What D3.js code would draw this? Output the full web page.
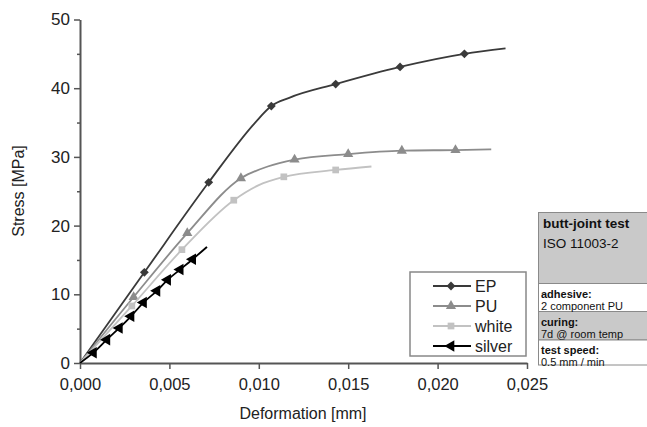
<!DOCTYPE html>
<html>
<head>
<meta charset="utf-8">
<script src="https://cdn.jsdelivr.net/npm/d3@7"></script>
<style>
  body { margin: 0; background: #fff; }
  svg text { font-family: "Liberation Sans", Arial, sans-serif; }
</style>
</head>
<body>
<svg id="chart" width="647" height="427"></svg>
<script>
// data: [deformation mm, stress MPa]
var epPoints = [[0,0],[0.0036,13.2],[0.0072,26.3],[0.0098,35.0],[0.0107,37.4],[0.0117,38.6],[0.0143,40.6],[0.0179,43.1],[0.0215,45.0],[0.0238,45.8]];
var epMarks = [[0.0036,13.2],[0.0072,26.3],[0.0107,37.4],[0.0143,40.6],[0.0179,43.1],[0.0215,45.0]];

var puPoints = [[0,0],[0.003,9.6],[0.006,18.9],[0.009,26.9],[0.0105,28.6],[0.012,29.6],[0.015,30.4],[0.018,30.9],[0.021,31.0],[0.0230,31.1]];
var puMarks = [[0.003,9.6],[0.006,18.9],[0.009,26.9],[0.012,29.6],[0.015,30.4],[0.018,30.9],[0.021,31.0]];

var whitePoints = [[0,0],[0.0029,8.3],[0.0057,16.5],[0.0086,23.7],[0.0100,25.9],[0.0114,27.1],[0.0143,28.1],[0.0163,28.6]];
var whiteMarks = [[0.0029,8.3],[0.0057,16.5],[0.0086,23.7],[0.0114,27.1],[0.0143,28.1]];

var silverPoints = [[0,0],[0.00075,1.5],[0.0015,3.4],[0.0022,5.1],[0.00285,6.8],[0.00355,8.8],[0.0043,10.5],[0.0049,12.1],[0.0056,13.6],[0.0063,15.1],[0.0071,16.9]];
var silverMarks = silverPoints.slice(1, 10);

var xTicks = [0, 0.005, 0.010, 0.015, 0.020, 0.025];
var yTicks = [0, 10, 20, 30, 40, 50];
var yMinor = [5, 15, 25, 35, 45];

var legendNames = ["EP", "PU", "white", "silver"];
var infoTitle = ["butt-joint test", "ISO 11003-2"];
var infoRows = [["adhesive:", "2 component PU"], ["curing:", "7d @ room temp"], ["test speed:", "0.5 mm / min"]];

var svg = d3.select("#chart");

var x = d3.scaleLinear().domain([0, 0.025]).range([80, 527]),
    y = d3.scaleLinear().domain([0, 50]).range([363, 19.5]);

var fmt = d3.formatLocale({decimal: ",", thousands: ".", grouping: [3], currency: ["", ""]}).format(".3f");

var axisColor = "#555";

// x axis
var gx = svg.append("g")
    .attr("transform", "translate(0," + y(0) + ")")
    .call(d3.axisBottom(x).tickValues(xTicks).tickFormat(fmt).tickSize(6).tickSizeOuter(0));
gx.attr("font-family", null);
gx.select(".domain").attr("stroke", axisColor).attr("stroke-width", 2);
gx.selectAll(".tick line").attr("stroke", axisColor).attr("stroke-width", 1.5);
gx.selectAll("text").attr("fill", "#222").style("font-size", "16.5px").attr("dy", "1.1em");

// y axis
var gy = svg.append("g")
    .attr("transform", "translate(" + x(0) + ",0)")
    .call(d3.axisLeft(y).tickValues(yTicks).tickSize(6).tickSizeOuter(0));
gy.attr("font-family", null);
gy.select(".domain").attr("stroke", axisColor).attr("stroke-width", 2);
gy.selectAll(".tick line").attr("stroke", axisColor).attr("stroke-width", 1.5);
gy.selectAll("text").attr("fill", "#222").style("font-size", "17px").attr("x", -10);

svg.append("g")
    .attr("transform", "translate(" + x(0) + ",0)")
    .call(d3.axisLeft(y).tickValues(yMinor).tickSize(3).tickFormat(""))
  .call(function(g) { g.select(".domain").remove(); })
  .selectAll(".tick line").attr("stroke", axisColor).attr("stroke-width", 1.5);

// axis titles
svg.append("text")
    .attr("x", 303).attr("y", 419)
    .attr("text-anchor", "middle")
    .attr("fill", "#222")
    .style("font-size", "16px")
    .text("Deformation [mm]");

svg.append("text")
    .attr("transform", "translate(24,191) rotate(-90)")
    .attr("text-anchor", "middle")
    .attr("fill", "#222")
    .style("font-size", "16px")
    .text("Stress [MPa]");

// series
var line = d3.line()
    .x(function(d) { return x(d[0]); })
    .y(function(d) { return y(d[1]); })
    .curve(d3.curveMonotoneX);

var series = [
  {name: "EP", pts: epPoints, marks: epMarks, color: "#3a3a3a", sym: d3.symbolDiamond2, size: 50, rot: 0},
  {name: "PU", pts: puPoints, marks: puMarks, color: "#8c8c8c", sym: d3.symbolTriangle, size: 45, rot: 0},
  {name: "white", pts: whitePoints, marks: whiteMarks, color: "#c2c2c2", sym: d3.symbolSquare, size: 45, rot: 0},
  {name: "silver", pts: silverPoints, marks: silverMarks, color: "#000", sym: d3.symbolTriangle, size: 58, rot: -90}
];

series.forEach(function(s) {
  svg.append("path")
      .datum(s.pts)
      .attr("fill", "none")
      .attr("stroke", s.color)
      .attr("stroke-width", 1.8)
      .attr("d", line);
  svg.append("g").selectAll("path")
    .data(s.marks)
    .join("path")
      .attr("transform", function(d) { return "translate(" + x(d[0]) + "," + y(d[1]) + ") rotate(" + s.rot + ")"; })
      .attr("d", d3.symbol().type(s.sym).size(s.size))
      .attr("fill", s.color);
});

// legend
var legend = svg.append("g");
legend.append("rect")
    .attr("x", 410).attr("y", 272).attr("width", 116).attr("height", 84)
    .attr("fill", "#fff").attr("stroke", "#888").attr("stroke-width", 1.5);

series.forEach(function(s, i) {
  var ly = 286 + i * 20;
  legend.append("line")
      .attr("x1", 433).attr("x2", 471).attr("y1", ly).attr("y2", ly)
      .attr("stroke", s.color).attr("stroke-width", 2);
  legend.append("path")
      .attr("transform", "translate(451," + ly + ") rotate(" + s.rot + ")")
      .attr("d", d3.symbol().type(s.sym).size(s.size))
      .attr("fill", s.color);
  legend.append("text")
      .attr("x", 475).attr("y", ly + 6)
      .attr("fill", "#222")
      .style("font-size", "16px")
      .text(legendNames[i]);
});

// info box
var info = svg.append("g");
var boxX = 538.5, boxW = 110;
var bands = [[212.5, 283.5, "#c9c9c9"], [283.5, 311.5, "#fff"], [311.5, 340, "#c9c9c9"], [340, 365, "#fff"]];
bands.forEach(function(b) {
  info.append("rect")
      .attr("x", boxX).attr("y", b[0]).attr("width", boxW).attr("height", b[1] - b[0])
      .attr("fill", b[2]).attr("stroke", "#8a8a8a").attr("stroke-width", 1);
});

info.append("text").attr("x", 543).attr("y", 228)
    .attr("fill", "#111").style("font-size", "13.5px").style("font-weight", "bold")
    .text(infoTitle[0]);
info.append("text").attr("x", 543).attr("y", 248)
    .attr("fill", "#111").style("font-size", "13.5px")
    .text(infoTitle[1]);

infoRows.forEach(function(r, i) {
  var top = bands[i + 1][0];
  info.append("text").attr("x", 541).attr("y", top + 14)
      .attr("fill", "#111").style("font-size", "11px").style("font-weight", "bold")
      .text(r[0]);
  info.append("text").attr("x", 541).attr("y", top + 26)
      .attr("fill", "#111").style("font-size", "11px")
      .text(r[1]);
});
</script>
</body>
</html>
